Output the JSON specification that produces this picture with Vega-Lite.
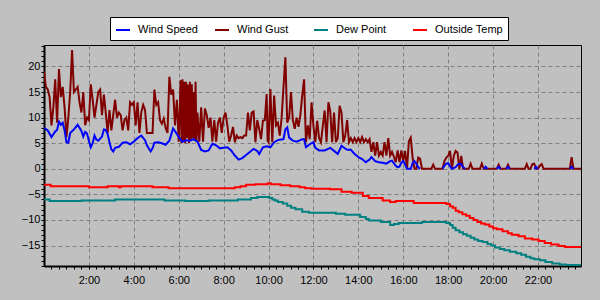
{
  "$schema": "https://vega.github.io/schema/vega-lite/v6.json",
  "width": 537,
  "height": 221,
  "autosize": {"type": "none"},
  "padding": {"left": 44, "top": 45, "right": 19, "bottom": 34},
  "background": "#c0c0c0",
  "config": {
    "view": {"stroke": "black", "strokeWidth": 1},
    "font": "Liberation Sans",
    "axis": {"labelFont": "Liberation Sans", "labelFontSize": 11, "labelColor": "black", "title": null},
    "legend": {
      "orient": "none", "legendX": 66, "legendY": -28, "direction": "horizontal", "columns": 4,
      "fillColor": "white", "strokeColor": "black", "padding": 5,
      "symbolType": "stroke", "symbolSize": 196, "symbolStrokeWidth": 2,
      "labelFont": "Liberation Sans", "labelFontSize": 11, "labelColor": "black",
      "labelOffset": 7, "columnPadding": 5, "gridAlign": "all"
    }
  },
  "datasets": {
    "temp": [
      {"m":0,"v":-3.1},{"m":18,"v":-3.4},{"m":120,"v":-3.6},{"m":170,"v":-3.4},{"m":200,"v":-3.6},{"m":205,"v":-3.4},{"m":290,"v":-3.6},{"m":333,"v":-3.8},{"m":510,"v":-3.6},{"m":525,"v":-3.4},{"m":540,"v":-3.1},{"m":565,"v":-3.0},{"m":598,"v":-2.8},{"m":606,"v":-3.0},{"m":632,"v":-3.2},{"m":658,"v":-3.4},{"m":683,"v":-3.6},{"m":698,"v":-3.8},{"m":715,"v":-3.9},{"m":765,"v":-4.0},{"m":795,"v":-4.5},{"m":822,"v":-4.7},{"m":852,"v":-5.3},{"m":868,"v":-5.7},{"m":905,"v":-6.2},{"m":925,"v":-6.5},{"m":940,"v":-6.3},{"m":988,"v":-6.7},{"m":1075,"v":-6.9},{"m":1085,"v":-7.3},{"m":1092,"v":-7.6},{"m":1100,"v":-8.2},{"m":1108,"v":-8.5},{"m":1118,"v":-8.9},{"m":1128,"v":-9.2},{"m":1138,"v":-9.6},{"m":1148,"v":-10.0},{"m":1158,"v":-10.4},{"m":1168,"v":-10.7},{"m":1178,"v":-10.9},{"m":1190,"v":-11.3},{"m":1200,"v":-11.6},{"m":1210,"v":-11.8},{"m":1225,"v":-12.2},{"m":1240,"v":-12.6},{"m":1250,"v":-12.9},{"m":1268,"v":-13.2},{"m":1285,"v":-13.6},{"m":1305,"v":-13.8},{"m":1322,"v":-14.1},{"m":1338,"v":-14.5},{"m":1355,"v":-14.8},{"m":1375,"v":-15.1},{"m":1392,"v":-15.3},{"m":1435,"v":-15.3}
    ],
    "dew": [
      {"m":0,"v":-6.0},{"m":15,"v":-6.3},{"m":100,"v":-6.2},{"m":190,"v":-6.0},{"m":322,"v":-6.2},{"m":378,"v":-6.3},{"m":440,"v":-6.2},{"m":518,"v":-6.0},{"m":553,"v":-5.7},{"m":570,"v":-5.5},{"m":602,"v":-5.7},{"m":610,"v":-6.0},{"m":617,"v":-6.2},{"m":625,"v":-6.5},{"m":638,"v":-6.8},{"m":650,"v":-7.2},{"m":660,"v":-7.6},{"m":672,"v":-7.9},{"m":690,"v":-8.4},{"m":708,"v":-8.6},{"m":780,"v":-8.8},{"m":805,"v":-9.0},{"m":845,"v":-9.4},{"m":860,"v":-9.8},{"m":868,"v":-10.1},{"m":900,"v":-10.4},{"m":925,"v":-11.0},{"m":935,"v":-10.8},{"m":948,"v":-10.6},{"m":1010,"v":-10.4},{"m":1075,"v":-10.6},{"m":1085,"v":-11.0},{"m":1092,"v":-11.5},{"m":1100,"v":-12.0},{"m":1110,"v":-12.4},{"m":1120,"v":-12.8},{"m":1130,"v":-13.1},{"m":1140,"v":-13.5},{"m":1150,"v":-13.8},{"m":1160,"v":-14.1},{"m":1172,"v":-14.3},{"m":1185,"v":-14.7},{"m":1195,"v":-15.0},{"m":1205,"v":-15.4},{"m":1218,"v":-15.7},{"m":1230,"v":-15.9},{"m":1245,"v":-16.2},{"m":1262,"v":-16.5},{"m":1275,"v":-16.8},{"m":1288,"v":-17.2},{"m":1300,"v":-17.5},{"m":1310,"v":-17.7},{"m":1325,"v":-17.9},{"m":1340,"v":-18.2},{"m":1358,"v":-18.5},{"m":1378,"v":-18.7},{"m":1395,"v":-18.8},{"m":1435,"v":-18.8}
    ],
    "gust": [
      {"m":0,"v":19},{"m":5,"v":16},{"m":10,"v":15.5},{"m":15,"v":14},{"m":20,"v":8.5},{"m":25,"v":12},{"m":30,"v":17.5},{"m":35,"v":9},{"m":40,"v":19.5},{"m":45,"v":14},{"m":50,"v":16},{"m":55,"v":12},{"m":60,"v":6.2},{"m":65,"v":10},{"m":70,"v":15},{"m":75,"v":23.2},{"m":80,"v":15},{"m":85,"v":15.5},{"m":90,"v":16},{"m":95,"v":13},{"m":100,"v":11},{"m":105,"v":15},{"m":110,"v":8.5},{"m":115,"v":10},
      {"m":120,"v":9.5},{"m":125,"v":16.5},{"m":130,"v":13.5},{"m":135,"v":10},{"m":140,"v":12.5},{"m":145,"v":15},{"m":150,"v":15.5},{"m":155,"v":10.5},{"m":160,"v":14.5},{"m":165,"v":11},{"m":170,"v":7},{"m":175,"v":11.5},{"m":180,"v":7.5},{"m":185,"v":10.5},{"m":190,"v":13.5},{"m":195,"v":10},{"m":200,"v":11},{"m":205,"v":10.5},{"m":210,"v":7.5},{"m":215,"v":9.5},{"m":220,"v":10},{"m":225,"v":7.5},{"m":230,"v":13},{"m":235,"v":12.5},
      {"m":240,"v":13},{"m":245,"v":8.5},{"m":250,"v":13},{"m":255,"v":7},{"m":260,"v":11},{"m":265,"v":12.5},{"m":270,"v":11.5},{"m":275,"v":7},{"m":280,"v":7},{"m":285,"v":7},{"m":290,"v":7},{"m":295,"v":15.5},{"m":300,"v":12.5},{"m":305,"v":13},{"m":310,"v":9.5},{"m":315,"v":8.8},{"m":320,"v":9.8},{"m":325,"v":8},{"m":330,"v":7},{"m":335,"v":18},{"m":340,"v":14.5},{"m":345,"v":15.5},{"m":350,"v":8.5},{"m":355,"v":13.5},
      {"m":360,"v":5.3},{"m":365,"v":17.3},{"m":367.5,"v":5},{"m":370,"v":17.5},{"m":372.5,"v":5.5},{"m":375,"v":17},{"m":377.5,"v":5},{"m":380,"v":17},{"m":382.5,"v":6},{"m":385,"v":16.5},{"m":387.5,"v":5},{"m":390,"v":17},{"m":392.5,"v":5.5},{"m":395,"v":16.5},{"m":397.5,"v":6},{"m":400,"v":15},{"m":402.5,"v":5.5},{"m":405,"v":17},{"m":407.5,"v":5.3},{"m":410,"v":11},{"m":415,"v":5.3},{"m":420,"v":12},{"m":425,"v":5.3},{"m":430,"v":11.8},{"m":435,"v":10.5},{"m":440,"v":8},{"m":445,"v":10},{"m":450,"v":5.3},{"m":455,"v":9.5},{"m":460,"v":5.3},{"m":465,"v":9},{"m":470,"v":10},{"m":475,"v":7},
      {"m":480,"v":10},{"m":485,"v":11},{"m":490,"v":8.5},{"m":495,"v":5.3},{"m":500,"v":6.5},{"m":505,"v":8.2},{"m":510,"v":5.2},{"m":515,"v":6.5},{"m":520,"v":6},{"m":525,"v":6.2},{"m":530,"v":6},{"m":535,"v":6.5},{"m":540,"v":6.5},{"m":545,"v":11},{"m":550,"v":7.5},{"m":555,"v":11},{"m":560,"v":11.2},{"m":565,"v":5.2},{"m":570,"v":9.5},{"m":575,"v":7.8},{"m":580,"v":5.8},{"m":585,"v":9.4},{"m":590,"v":9.5},{"m":595,"v":14.6},{"m":597.5,"v":5.5},{"m":600,"v":5.2},{"m":605,"v":15.6},{"m":610,"v":5.2},{"m":615,"v":14.3},{"m":620,"v":8.5},{"m":625,"v":9},{"m":630,"v":6.5},{"m":635,"v":10},{"m":640,"v":16},{"m":645,"v":21.8},{"m":650,"v":9},{"m":655,"v":10},{"m":660,"v":15},{"m":665,"v":9.5},{"m":670,"v":7.8},{"m":675,"v":10},{"m":680,"v":8.2},{"m":685,"v":10.5},{"m":690,"v":14.3},{"m":695,"v":17.5},{"m":700,"v":5.2},{"m":705,"v":8.5},{"m":710,"v":5.8},{"m":715,"v":13},
      {"m":720,"v":8.4},{"m":725,"v":5.2},{"m":730,"v":9.4},{"m":735,"v":6},{"m":740,"v":5.2},{"m":745,"v":8.4},{"m":750,"v":11.4},{"m":755,"v":5.2},{"m":760,"v":13},{"m":765,"v":11.2},{"m":770,"v":5.2},{"m":775,"v":11},{"m":780,"v":5.2},{"m":785,"v":6},{"m":790,"v":12.3},{"m":795,"v":11},{"m":800,"v":5.2},{"m":805,"v":6.5},{"m":810,"v":9.5},{"m":815,"v":5.2},{"m":820,"v":6},{"m":825,"v":5.2},{"m":830,"v":6},{"m":835,"v":5.2},
      {"m":840,"v":6},{"m":845,"v":5.2},{"m":850,"v":6.2},{"m":855,"v":5.2},{"m":860,"v":5.8},{"m":865,"v":5.2},{"m":870,"v":5.8},{"m":875,"v":3.3},{"m":880,"v":5.2},{"m":885,"v":2.6},{"m":890,"v":5.2},{"m":895,"v":2.6},{"m":900,"v":3.3},{"m":905,"v":2.6},{"m":910,"v":5.2},{"m":915,"v":2.6},{"m":920,"v":6},{"m":925,"v":2.6},{"m":930,"v":3.3},{"m":935,"v":2.4},{"m":940,"v":1.3},{"m":945,"v":3.6},{"m":950,"v":1.3},{"m":955,"v":3.6},
      {"m":960,"v":1.5},{"m":965,"v":3.5},{"m":970,"v":0},{"m":975,"v":5.4},{"m":980,"v":6.1},{"m":985,"v":2.2},{"m":990,"v":0},{"m":995,"v":0},{"m":1000,"v":2.2},{"m":1005,"v":2},{"m":1010,"v":0},{"m":1035,"v":0},{"m":1040,"v":0.8},{"m":1045,"v":0},{"m":1065,"v":0},{"m":1070,"v":1.5},{"m":1075,"v":2.2},{"m":1080,"v":2.5},{"m":1085,"v":3.5},{"m":1090,"v":0},{"m":1095,"v":2.5},{"m":1100,"v":3.5},{"m":1105,"v":3.2},{"m":1110,"v":0},{"m":1115,"v":2.5},{"m":1120,"v":0},{"m":1135,"v":0},{"m":1140,"v":1.0},{"m":1145,"v":0},{"m":1165,"v":0},{"m":1170,"v":1.0},{"m":1175,"v":0},{"m":1210,"v":0},{"m":1215,"v":0.8},{"m":1220,"v":0},{"m":1235,"v":0},{"m":1240,"v":0.8},{"m":1245,"v":0},{"m":1285,"v":0},{"m":1290,"v":0.9},{"m":1295,"v":0},{"m":1300,"v":0},{"m":1305,"v":0.9},{"m":1310,"v":1.0},{"m":1315,"v":0},{"m":1320,"v":0},{"m":1325,"v":0.6},{"m":1330,"v":0.9},{"m":1335,"v":0},{"m":1405,"v":0},{"m":1410,"v":2.3},{"m":1415,"v":0},{"m":1435,"v":0}
    ],
    "speed": [
      {"m":0,"v":8},{"m":10,"v":7.5},{"m":20,"v":6.2},{"m":30,"v":7.3},{"m":35,"v":7.6},{"m":40,"v":9.2},{"m":45,"v":8.6},{"m":50,"v":9.0},{"m":55,"v":7.5},{"m":60,"v":5.2},{"m":65,"v":5.1},{"m":70,"v":7.0},{"m":80,"v":7.7},{"m":90,"v":8.6},{"m":95,"v":8.0},{"m":100,"v":7.4},{"m":105,"v":6.3},{"m":110,"v":7.2},{"m":115,"v":6.9},{"m":120,"v":5.5},{"m":125,"v":4.2},{"m":130,"v":5.0},{"m":135,"v":6.5},{"m":140,"v":5.7},{"m":145,"v":5.5},{"m":155,"v":6.3},{"m":160,"v":7.7},{"m":165,"v":7.6},{"m":170,"v":6.8},{"m":175,"v":5.2},{"m":180,"v":3.8},{"m":185,"v":3.4},{"m":190,"v":4.1},{"m":200,"v":4.3},{"m":210,"v":5.1},{"m":220,"v":5.2},{"m":230,"v":4.8},{"m":240,"v":5.3},
      {"m":250,"v":6.0},{"m":260,"v":6.5},{"m":270,"v":5.6},{"m":275,"v":4.6},{"m":285,"v":3.4},{"m":290,"v":4.0},{"m":295,"v":5.1},{"m":305,"v":5.2},{"m":315,"v":5.0},{"m":325,"v":4.7},{"m":335,"v":5.5},{"m":345,"v":7.9},{"m":350,"v":7.4},{"m":355,"v":6.8},{"m":365,"v":5.7},{"m":370,"v":5.3},{"m":380,"v":5.6},{"m":390,"v":5.5},{"m":400,"v":5.8},{"m":410,"v":5.3},{"m":415,"v":4.5},{"m":420,"v":3.7},{"m":430,"v":3.4},{"m":440,"v":3.6},{"m":450,"v":4.9},{"m":460,"v":4.6},{"m":470,"v":4.0},{"m":480,"v":4.1},
      {"m":490,"v":4.2},{"m":500,"v":3.6},{"m":510,"v":2.6},{"m":520,"v":1.8},{"m":530,"v":2.1},{"m":540,"v":2.7},{"m":550,"v":3.3},{"m":560,"v":3.9},{"m":570,"v":3.5},{"m":575,"v":2.9},{"m":585,"v":4.2},{"m":595,"v":4.4},{"m":605,"v":4.2},{"m":615,"v":5.2},{"m":625,"v":5.6},{"m":630,"v":5.7},{"m":640,"v":5.8},{"m":645,"v":7.7},{"m":650,"v":8.1},{"m":655,"v":6.1},{"m":665,"v":5.5},{"m":675,"v":5.3},{"m":685,"v":5.6},{"m":690,"v":5.8},{"m":695,"v":5.8},{"m":700,"v":4.2},{"m":710,"v":4.8},{"m":720,"v":5.2},
      {"m":725,"v":4.1},{"m":735,"v":3.6},{"m":750,"v":3.6},{"m":765,"v":4.1},{"m":775,"v":3.5},{"m":785,"v":2.9},{"m":795,"v":4.5},{"m":800,"v":4.2},{"m":810,"v":3.7},{"m":820,"v":3.7},{"m":830,"v":2.9},{"m":840,"v":2.3},{"m":850,"v":1.9},{"m":860,"v":1.3},{"m":870,"v":1.8},{"m":875,"v":2.3},{"m":885,"v":1.5},{"m":895,"v":1.3},{"m":905,"v":1.2},{"m":915,"v":1.0},{"m":925,"v":1.5},{"m":930,"v":1.6},{"m":940,"v":0.6},{"m":945,"v":0.3},{"m":950,"v":0.4},{"m":955,"v":1.2},{"m":960,"v":1.5},
      {"m":965,"v":0.8},{"m":970,"v":0},{"m":980,"v":0},{"m":985,"v":1.1},{"m":990,"v":1.5},{"m":995,"v":1.0},{"m":1000,"v":0.3},{"m":1005,"v":0},{"m":1010,"v":null},{"m":1065,"v":0},{"m":1070,"v":0.6},{"m":1075,"v":1.0},{"m":1080,"v":1.1},{"m":1085,"v":0.5},{"m":1090,"v":0},{"m":1100,"v":0.3},{"m":1105,"v":0.8},{"m":1110,"v":1.0},{"m":1115,"v":0.9},{"m":1120,"v":0.3},{"m":1125,"v":0},{"m":1130,"v":null},{"m":1175,"v":0},{"m":1180,"v":0.4},{"m":1185,"v":0},{"m":1190,"v":null},{"m":1210,"v":0},{"m":1215,"v":0.4},{"m":1220,"v":0},{"m":1225,"v":null},{"m":1235,"v":0},{"m":1240,"v":0.4},{"m":1245,"v":0},{"m":1250,"v":null},{"m":1310,"v":0},{"m":1315,"v":0.4},{"m":1320,"v":0},{"m":1325,"v":null},{"m":1405,"v":0},{"m":1410,"v":0.4},{"m":1415,"v":0},{"m":1420,"v":null}
    ]
  },
  "resolve": {"axis": {"x": "independent", "y": "independent"}},
  "layer": [
    {
      "data": {"name": "temp"},
      "mark": {"type": "line", "strokeWidth": 2, "clip": true, "interpolate": "step-after"},
      "encoding": {
        "x": {"field": "m", "type": "quantitative", "scale": {"domain": [0, 1435], "nice": false, "zero": false},
          "axis": {"orient": "bottom", "values": [120,240,360,480,600,720,840,960,1080,1200,1320], "labelExpr": "floor(datum.value/60) + ':00'",
            "grid": true, "gridColor": "#808080", "gridDash": [4,3], "gridWidth": 1, "ticks": false,
            "domain": true, "domainColor": "black", "domainWidth": 2, "labelPadding": 8, "labelFlush": false}},
        "y": {"field": "v", "type": "quantitative", "scale": {"domain": [-19, 24.2], "nice": false, "zero": false},
          "axis": {"orient": "left", "values": [-15,-10,-5,0,5,10,15,20],
            "grid": true, "gridColor": "#808080", "gridDash": [4,3], "gridWidth": 1, "ticks": false,
            "domain": true, "domainColor": "black", "domainWidth": 2, "labelPadding": 4}},
        "color": {"datum": "Outside Temp", "type": "nominal",
          "scale": {"domain": ["Wind Speed","Wind Gust","Dew Point","Outside Temp"], "range": ["#0000ff","#800000","#008080","#ff0000"]},
          "legend": {"title": null}}
      }
    },
    {
      "data": {"name": "dew"},
      "mark": {"type": "line", "strokeWidth": 2, "clip": true, "interpolate": "step-after"},
      "encoding": {
        "x": {"field": "m", "type": "quantitative", "scale": {"domain": [0, 1435], "nice": false, "zero": false},
          "axis": {"orient": "bottom", "values": [20,40,60,80,100,120,140,160,180,200,220,240,260,280,300,320,340,360,380,400,420,440,460,480,500,520,540,560,580,600,620,640,660,680,700,720,740,760,780,800,820,840,860,880,900,920,940,960,980,1000,1020,1040,1060,1080,1100,1120,1140,1160,1180,1200,1220,1240,1260,1280,1300,1320,1340,1360,1380,1400,1420],
            "labels": false, "grid": false, "domain": false, "ticks": true, "tickSize": 3, "tickColor": "black", "tickWidth": 1}},
        "y": {"field": "v", "type": "quantitative", "scale": {"domain": [-19, 24.2], "nice": false, "zero": false},
          "axis": {"orient": "left", "values": [-19,-18,-17,-16,-15,-14,-13,-12,-11,-10,-9,-8,-7,-6,-5,-4,-3,-2,-1,0,1,2,3,4,5,6,7,8,9,10,11,12,13,14,15,16,17,18,19,20,21,22,23,24],
            "labels": false, "grid": false, "domain": false, "ticks": true, "tickSize": 3, "tickColor": "black", "tickWidth": 1}},
        "color": {"datum": "Dew Point", "type": "nominal",
          "scale": {"domain": ["Wind Speed","Wind Gust","Dew Point","Outside Temp"], "range": ["#0000ff","#800000","#008080","#ff0000"]},
          "legend": {"title": null}}
      }
    },
    {
      "data": {"name": "gust"},
      "mark": {"type": "line", "strokeWidth": 2, "clip": true},
      "encoding": {
        "x": {"field": "m", "type": "quantitative", "scale": {"domain": [0, 1435], "nice": false, "zero": false}, "axis": null},
        "y": {"field": "v", "type": "quantitative", "scale": {"domain": [-19, 24.2], "nice": false, "zero": false}, "axis": null},
        "color": {"datum": "Wind Gust", "type": "nominal",
          "scale": {"domain": ["Wind Speed","Wind Gust","Dew Point","Outside Temp"], "range": ["#0000ff","#800000","#008080","#ff0000"]},
          "legend": {"title": null}}
      }
    },
    {
      "data": {"name": "speed"},
      "mark": {"type": "line", "strokeWidth": 2, "clip": true},
      "encoding": {
        "x": {"field": "m", "type": "quantitative", "scale": {"domain": [0, 1435], "nice": false, "zero": false}, "axis": null},
        "y": {"field": "v", "type": "quantitative", "scale": {"domain": [-19, 24.2], "nice": false, "zero": false}, "axis": null},
        "color": {"datum": "Wind Speed", "type": "nominal",
          "scale": {"domain": ["Wind Speed","Wind Gust","Dew Point","Outside Temp"], "range": ["#0000ff","#800000","#008080","#ff0000"]},
          "legend": {"title": null}}
      }
    }
  ]
}
